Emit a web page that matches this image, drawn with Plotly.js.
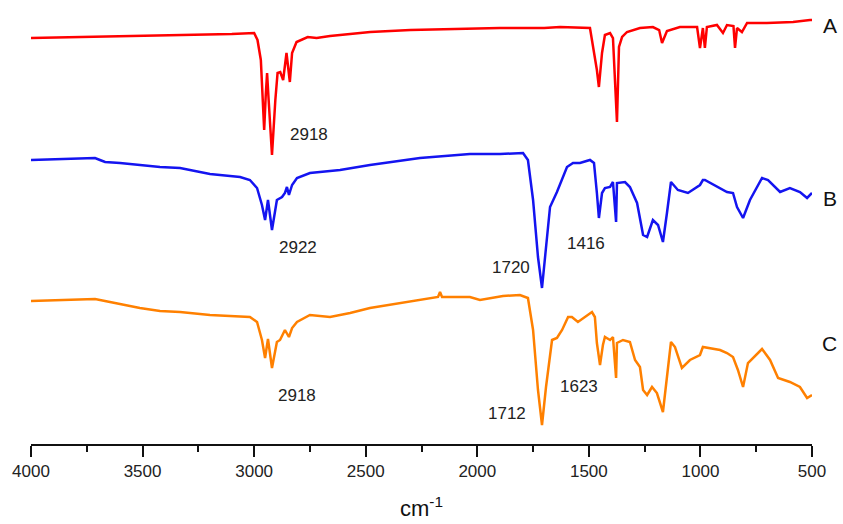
<!DOCTYPE html>
<html>
<head>
<meta charset="utf-8">
<script src="https://cdn.plot.ly/plotly-3.0.1.min.js"></script>
<style>html,body{margin:0;padding:0;background:#fff;}#chart{width:843px;height:524px;}</style>
</head>
<body>
<div id="chart"></div>
<script>
// Spectrum A (wavenumber, cm-1) and offset transmittance (a.u.)
const wnA = [4000,3750,3500,3250,3100,3000,2985,2970,2960,2955,2948,2942,2935,2920,2905,2895,2883,2870,2855,2848,2840,2830,2810,2760,2720,2660,2480,2300,2100,1900,1700,1629,1495,1464,1455,1441,1428,1405,1392,1380,1374,1365,1351,1329,1271,1213,1185,1172,1150,1092,1015,1002,989,980,971,926,899,881,852,845,836,814,791,702,585,509,500];
const tA  = [406,407,408,409,410,411,404,384,344,314,349,371,344,289,344,371,372,364,391,379,362,391,402,407,406,408,412,414,415,416,416,417,416,374,357,391,409,411,406,354,322,397,407,412,416,417,414,401,413,417,417,396,416,396,417,419,411,419,418,396,416,412,421,421,422,424,424];

// Spectrum B
const wnB = [4000,3780,3713,3691,3668,3601,3422,3332,3198,3063,3019,2987,2965,2951,2938,2920,2898,2875,2862,2853,2844,2830,2808,2750,2615,2481,2257,2033,1898,1795,1773,1750,1728,1710,1697,1674,1643,1598,1571,1540,1495,1477,1464,1455,1441,1428,1405,1392,1378,1374,1338,1316,1284,1257,1239,1213,1190,1168,1150,1132,1101,1056,1002,989,980,926,881,854,836,809,778,724,697,643,599,554,522,500];
const tB  = [284,285,286,284,282,281,277,276,270,267,264,256,239,224,244,214,244,247,251,257,249,259,266,271,274,279,286,290,290,291,284,244,187,156,187,237,252,277,281,281,284,281,251,226,251,256,257,262,222,261,262,257,241,209,207,224,219,202,231,262,254,251,259,264,264,257,252,251,237,226,244,266,264,252,256,252,246,251];

// Spectrum C
const wnC = [4000,3780,3713,3646,3512,3422,3332,3198,3063,3019,2987,2965,2951,2938,2920,2898,2884,2862,2844,2830,2808,2750,2660,2570,2481,2257,2176,2167,2158,2033,1988,1885,1809,1773,1750,1728,1710,1692,1665,1643,1620,1593,1576,1549,1517,1486,1473,1464,1450,1437,1428,1405,1392,1378,1374,1347,1316,1293,1271,1257,1239,1217,1195,1168,1150,1132,1114,1083,1047,1002,989,966,912,881,854,832,809,787,764,724,688,652,599,554,522,500];
const tC  = [143,144,145,142,136,133,132,129,128,127,122,104,86,105,76,102,104,114,107,116,122,129,127,131,136,144,147,152,147,147,144,148,149,146,114,54,19,57,104,106,114,127,127,122,127,132,127,101,79,99,107,104,107,66,101,104,102,84,77,54,49,57,51,32,67,102,97,76,84,89,97,96,94,91,87,74,57,81,86,95,84,66,62,57,46,49];

// Peak labels
const peakText = ["2918","2922","1720","1416","2918","1712","1623"];
const peakX    = [2754,2803,1849,1513,2808,1867,1544];
const peakY    = [310,197,177,201,49,31,58];

// Curve labels
const curveNames = ["A","B","C"];
const curveY     = [419,246,101];
const colors     = ["#ff0000","#1414f0","#ff8000"];

const xs = [wnA, wnB, wnC];
const ys = [tA, tB, tC];
const traces = xs.map((x, i) => ({
  x: x, y: ys[i], type: 'scatter', mode: 'lines',
  line: {color: colors[i], width: 2.5}, hoverinfo: 'skip', showlegend: false
}));

const font = "Liberation Sans, Arial, sans-serif";
const annotations = peakText.map((t, i) => ({
  text: t, x: peakX[i], y: peakY[i], xref: 'x', yref: 'y',
  showarrow: false, font: {family: font, size: 17, color: '#222'}
})).concat(curveNames.map((t, i) => ({
  text: t, x: 1.035, y: curveY[i], xref: 'paper', yref: 'y',
  showarrow: false, font: {family: font, size: 21, color: '#111'}
})));

const layout = {
  width: 843, height: 524,
  margin: {l: 31, r: 31, t: 10, b: 80},
  paper_bgcolor: '#fff', plot_bgcolor: '#fff',
  font: {family: font, color: '#222'},
  xaxis: {
    range: [4000, 500], dtick: 500, tick0: 500,
    showline: true, linecolor: '#111', linewidth: 2,
    ticks: 'outside', ticklen: 11, tickwidth: 2, tickcolor: '#111',
    minor: {dtick: 250, ticks: 'outside', ticklen: 6, tickwidth: 2, tickcolor: '#111'},
    showgrid: false, zeroline: false,
    tickfont: {family: font, size: 17, color: '#222'},
    title: {text: 'cm<sup>-1</sup>', font: {family: font, size: 22, color: '#111'}, standoff: 20}
  },
  yaxis: {range: [0, 434], visible: false, showgrid: false, zeroline: false},
  annotations: annotations
};

Plotly.newPlot('chart', traces, layout, {displayModeBar: false, staticPlot: true});
</script>
</body>
</html>
